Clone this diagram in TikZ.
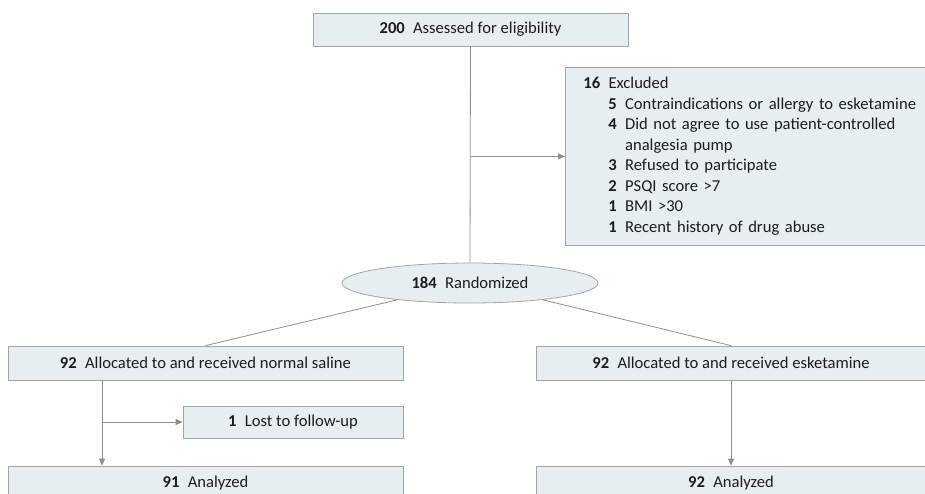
\documentclass[tikz,border=0pt]{standalone}
\usepackage{fontspec}
\setmainfont{Carlito}
\usetikzlibrary{arrows.meta,positioning,shapes.geometric}
\definecolor{FlowFill}{HTML}{E6EEF2}
\definecolor{FlowEdge}{HTML}{A4A4A4}
\definecolor{FlowLine}{HTML}{8E8E8E}
\definecolor{FlowText}{HTML}{1E1B1C}

\begin{document}
\begin{tikzpicture}[x=1pt,y=-1pt,
    font=\fontsize{16.6}{20.5}\selectfont,text=FlowText,
    flowbox/.style={fill=FlowFill,draw=FlowEdge,thick,align=center,inner sep=0pt,minimum height=33pt},
    flowline/.style={FlowLine,thick},
    flowarrow/.style={FlowLine,thick,-{Triangle[length=7pt,width=6pt]}}]
    \useasboundingbox (0,0) rectangle (925,493);
    \node[flowbox,minimum width=315pt] (elig) at (470.5,29.5)
      {\textbf{200}\enspace Assessed for eligibility};
    \node[flowbox,align=left,anchor=north west,text width=325pt,inner xsep=18pt,minimum height=178pt] (excl) at (565,67)
      {\begin{tabular}{@{\hspace{25pt}}r@{\enspace}l@{}}
        \multicolumn{2}{@{}l}{\textbf{16}\enspace Excluded}\\
        \textbf{5} & Contraindications or allergy to esketamine\\
        \textbf{4} & Did not agree to use patient-controlled\\
                   & analgesia pump\\
        \textbf{3} & Refused to participate\\
        \textbf{2} & PSQI score >7\\
        \textbf{1} & BMI >30\\
        \textbf{1} & Recent history of drug abuse
       \end{tabular}};
    \node[flowbox,ellipse,minimum width=256pt,minimum height=40pt] (rand) at (470,283)
      {\textbf{184}\enspace Randomized};
    \node[flowbox,minimum width=395pt,minimum height=34pt] (alloc1) at (205.5,363)
      {\textbf{92}\enspace Allocated to and received normal saline};
    \node[flowbox,minimum width=390pt,minimum height=34pt] (alloc2) at (731,363)
      {\textbf{92}\enspace Allocated to and received esketamine};
    \node[flowbox,minimum width=220pt,minimum height=32pt] (lost) at (293,422)
      {\textbf{1}\enspace Lost to follow-up};
    \node[flowbox,minimum width=395pt,minimum height=34pt] (ana1) at (205.5,483)
      {\textbf{91}\enspace Analyzed};
    \node[flowbox,minimum width=390pt,minimum height=34pt] (ana2) at (731,483)
      {\textbf{92}\enspace Analyzed};
    % screening and exclusion
    \coordinate (branch) at (elig.south |- excl.west);
    \draw[flowline] (elig.south)--(rand.north);
    \draw[flowarrow] (branch)--(excl.west);
    % randomization to both arms
    \draw[flowline] (rand.193)--(alloc1.north);
    \draw[flowline] (rand.-13)--(alloc2.north);
    % follow-up
    \coordinate (split) at (102,422);
    \draw[flowarrow] (alloc1.south -| split)--(ana1.north -| split);
    \draw[flowarrow] (split)--(lost.west);
    \draw[flowarrow] (alloc2.south)--(ana2.north);
  \end{tikzpicture}
\end{document}
